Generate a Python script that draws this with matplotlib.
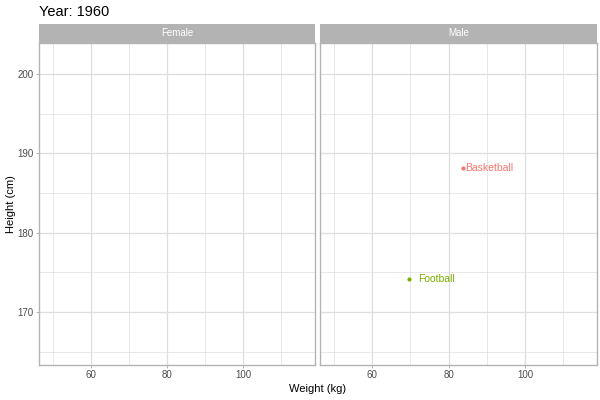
import matplotlib.pyplot as plt
from matplotlib.ticker import MultipleLocator

plt.rcParams['font.family'] = ['Liberation Sans', 'DejaVu Sans']

# dados
painel = ['Female', 'Male']
esportes = ['Basketball', 'Football']
sexo = ['Male', 'Male']
peso = [83.9, 69.7]
altura = [188.2, 174.2]
cores = ['#F8766D', '#7CAE00']
ano = 1960

fig = plt.figure(figsize=(6, 4), dpi=100)
W, H = 600, 400
paineis = [(39, 315), (320, 597)]
top, bottom, strip_h = 43, 365, 19

borda = '#B3B3B3'
grade = '#DEDEDE'

for idx, (x0, x1) in enumerate(paineis):
    ax = fig.add_axes([x0 / W, 1 - bottom / H, (x1 - x0) / W, (bottom - top) / H])
    ax.set_xlim(46.3, 118.9)
    ax.set_ylim(163.3, 203.9)
    ax.xaxis.set_major_locator(MultipleLocator(20))
    ax.xaxis.set_minor_locator(MultipleLocator(10))
    ax.yaxis.set_major_locator(MultipleLocator(10))
    ax.yaxis.set_minor_locator(MultipleLocator(5))
    ax.grid(which='major', color=grade, linewidth=0.9)
    ax.grid(which='minor', color=grade, linewidth=0.5)
    ax.set_axisbelow(True)
    for s in ax.spines.values():
        s.set_color(borda)
        s.set_linewidth(1.0)
    ax.tick_params(which='major', length=2.2, width=0.7, color=borda, labelsize=7,
                   labelcolor='#4D4D4D', pad=1.5)
    ax.tick_params(which='minor', length=0, labelbottom=False, labelleft=False)
    if idx > 0:
        ax.tick_params(axis='y', which='both', left=False, labelleft=False)

    for e, s, p, a, c in zip(esportes, sexo, peso, altura, cores):
        if s != painel[idx]:
            continue
        ax.scatter(p, a, s=9, color=c, zorder=3, linewidths=0)
        dx = 0.4 if e == 'Basketball' else 2.2
        ax.text(p + dx, a, e, color=c, fontsize=7.5, va='center', ha='left')

    # faixa do painel
    sax = fig.add_axes([x0 / W, 1 - top / H, (x1 - x0) / W, strip_h / H])
    sax.set_facecolor(borda)
    sax.set_xticks([])
    sax.set_yticks([])
    for s in sax.spines.values():
        s.set_visible(False)
    sax.text(0.5, 0.5, painel[idx], color='white', fontsize=7, ha='center', va='center',
             transform=sax.transAxes)

fig.text((39 + 597) / 2 / W, 1 - 389 / H, 'Weight (kg)', fontsize=8, ha='center', va='center')
fig.text(11 / W, 1 - (top + bottom) / 2 / H, 'Height (cm)', fontsize=8, ha='center',
         va='center', rotation=90)
fig.text(39 / W, 1 - 12 / H, f'Year: {ano}', fontsize=10.5, ha='left', va='center')

plt.savefig('out.png', dpi=100)
